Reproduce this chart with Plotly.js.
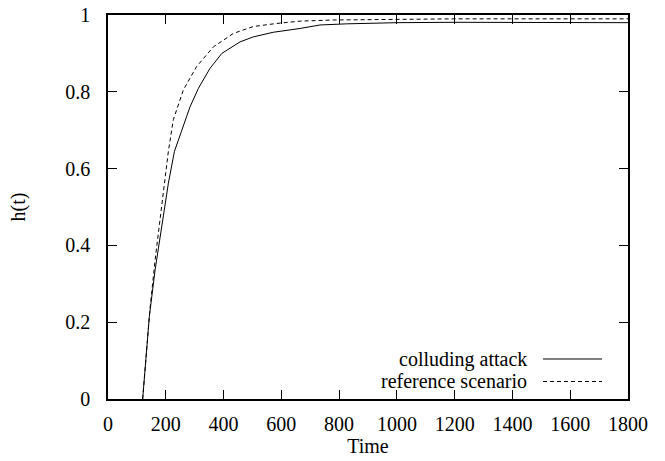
<!DOCTYPE html>
<html>
<head>
<meta charset="utf-8">
<script src="https://cdn.plot.ly/plotly-3.0.1.min.js"></script>
</head>
<body style="margin:0">
<div id="chart" style="width:665px;height:461px"></div>
<script>
// Colluding attack (solid)
const timeColluding = [120, 134, 143, 163, 191, 209, 230, 255, 284, 313, 353, 394, 457, 503, 572, 665, 734, 826, 1000, 1200, 1400, 1600, 1800];
const hColluding    = [0, 0.145, 0.214, 0.336, 0.475, 0.562, 0.645, 0.70, 0.761, 0.809, 0.861, 0.90, 0.93, 0.943, 0.955, 0.965, 0.974, 0.977, 0.980, 0.981, 0.981, 0.980, 0.980];
// Reference scenario (dashed)
const timeReference = [120, 145, 163, 186, 209, 226, 261, 307, 365, 434, 503, 584, 665, 780, 1000, 1200, 1400, 1600, 1800];
const hReference    = [0, 0.232, 0.362, 0.51, 0.645, 0.727, 0.805, 0.866, 0.917, 0.952, 0.97, 0.978, 0.984, 0.987, 0.989, 0.99, 0.99, 0.99, 0.99];

const seriesNames = ['colluding attack', 'reference scenario'];
const xTicks = [0, 200, 400, 600, 800, 1000, 1200, 1400, 1600, 1800];
const yTicks = [0, 0.2, 0.4, 0.6, 0.8, 1];
const yTickText = ['0', '0.2', '0.4', '0.6', '0.8', '1'];

const fam = 'Times New Roman, Liberation Serif, DejaVu Serif, serif';

const traces = [
  {x: timeColluding, y: hColluding, mode: 'lines', name: seriesNames[0],
   line: {color: '#000', width: 1}},
  {x: timeReference, y: hReference, mode: 'lines', name: seriesNames[1],
   line: {color: '#000', width: 1, dash: '4px,3px'}}
];

const legendTextY = [0.1016, 0.048];
const legendLineY = [0.1042, 0.0456];
const layout = {
  width: 665, height: 461,
  margin: {l: 108, r: 37, t: 15, b: 62},
  showlegend: false,
  font: {family: fam, size: 20, color: '#000'},
  xaxis: {
    range: [0, 1800], tickvals: xTicks, ticktext: xTicks.map(String),
    ticks: 'inside', ticklen: 9, tickwidth: 1, tickcolor: '#000',
    showline: true, linecolor: '#000', linewidth: 1.5, mirror: 'ticks',
    showgrid: false, zeroline: false, ticklabelstandoff: 6,
    tickfont: {family: fam, size: 20, color: '#000'},
    title: {text: 'Time', standoff: 4, font: {family: fam, size: 20, color: '#000'}}
  },
  yaxis: {
    range: [0, 1], tickvals: yTicks, ticktext: yTickText,
    ticks: 'inside', ticklen: 9, tickwidth: 1, tickcolor: '#000',
    showline: true, linecolor: '#000', linewidth: 1.5, mirror: 'ticks',
    showgrid: false, zeroline: false, ticklabelstandoff: 12,
    tickfont: {family: fam, size: 20, color: '#000'},
    title: {text: 'h(t)', standoff: 34, font: {family: fam, size: 20, color: '#000'}}
  },
  annotations: seriesNames.map((n, i) => ({
    text: n, xref: 'paper', yref: 'paper', x: 0.8096, y: legendTextY[i],
    xanchor: 'right', yanchor: 'middle', showarrow: false,
    font: {family: fam, size: 20, color: '#000'}
  })),
  shapes: [0, 1].map(i => ({
    type: 'line', xref: 'paper', yref: 'paper', x0: 0.8365, x1: 0.95,
    y0: legendLineY[i], y1: legendLineY[i],
    line: {color: '#000', width: 1, dash: i === 0 ? 'solid' : '4px,3px'}
  }))
};

Plotly.newPlot('chart', traces, layout, {displayModeBar: false});
</script>
</body>
</html>
